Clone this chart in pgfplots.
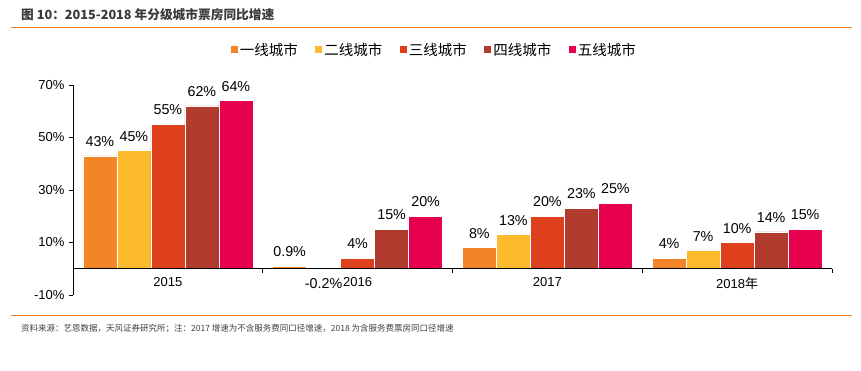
\documentclass[border=0pt]{standalone}
\usepackage{pgfplots}
\pgfplotsset{compat=1.18}
\usepackage{fontspec}
\setmainfont{Liberation Sans}
\newfontfamily\cjk{Noto Sans CJK SC}
\definecolor{c1}{HTML}{F28527}
\definecolor{c2}{HTML}{FBBB2C}
\definecolor{c3}{HTML}{DE3F1C}
\definecolor{c4}{HTML}{B13B2C}
\definecolor{c5}{HTML}{E6004E}
\definecolor{oline}{HTML}{F0821E}
\definecolor{titlegray}{HTML}{3A3A3A}
\definecolor{notegray}{HTML}{404040}
\pgfplotsset{ybar legend/.style={legend image code/.code={\fill[##1] (0pt,-3pt) rectangle (8pt,5pt);}}}
\begin{document}
\begin{tikzpicture}[x=1pt,y=1pt]
\useasboundingbox (0,0) rectangle (861,371);
\node[anchor=west, font=\cjk\bfseries\fontsize{12.7}{15}\selectfont, text=titlegray, inner sep=0] at (21,356) {图 10：2015-2018 年分级城市票房同比增速};
\draw[oline, line width=1pt] (11,343) -- (852,343);
\draw[oline, line width=1pt] (11,55) -- (852,55);
\node[anchor=west, font=\cjk\fontsize{8.5}{11}\selectfont, text=notegray, inner sep=0] at (21,42) {资料来源：艺恩数据，天风证券研究所；注：2017 增速为不含服务费同口径增速，2018 为含服务费票房同口径增速};
\begin{axis}[
  at={(73pt,76pt)}, anchor=south west,
  scale only axis, width=759pt, height=210pt,
  xmin=-0.5, xmax=3.5, ymin=-10, ymax=70,
  clip=false, axis on top,
  axis x line=middle, axis y line=left,
  axis line style={-, black, line width=0.8pt},
  every inner x axis line/.append style={-},
  every outer y axis line/.append style={-},
  tick align=outside, major tick length=4pt,
  tick style={black, line width=0.8pt},
  ytick={-10,10,30,50,70},
  yticklabels={-10\%,10\%,30\%,50\%,70\%},
  xtick={0.5,1.5,2.5,3.5},
  xticklabels={},
  extra x ticks={0,1,2,3},
  extra x tick labels={2015,2016,2017,{2018{\cjk 年}}},
  extra x tick style={major tick length=0pt, xticklabel style={yshift=-5pt}},
  tick label style={font=\fontsize{13}{15}\selectfont, text=black},
  yticklabel style={xshift=-1pt},
  /pgf/number format/assume math mode=true,
  ybar=0pt, bar width=34pt,
  nodes near coords={\pgfmathprintnumber[fixed,precision=1]{\pgfplotspointmeta}\%},
  every node near coord/.append style={font=\fontsize{14.3}{16}\selectfont, text=black, inner ysep=9pt, inner xsep=1pt},
  legend columns=5,
  legend style={draw=none, fill=none, at={(0.475,1.1667)}, anchor=center,
    font=\cjk\fontsize{14.5}{16}\selectfont,
    nodes={inner xsep=1.5pt},
    /tikz/every even column/.append style={column sep=15pt}},
]
\addplot[fill=c1, draw=white, line width=0.5pt] coordinates {(0,43) (1,0.9) (2,8) (3,4)};
\addplot[fill=c2, draw=white, line width=0.5pt] coordinates {(0,45) (1,-0.2) (2,13) (3,7)};
\addplot[fill=c3, draw=white, line width=0.5pt] coordinates {(0,55) (1,4) (2,20) (3,10)};
\addplot[fill=c4, draw=white, line width=0.5pt] coordinates {(0,62) (1,15) (2,23) (3,14)};
\addplot[fill=c5, draw=white, line width=0.5pt] coordinates {(0,64) (1,20) (2,25) (3,15)};
\legend{一线城市,二线城市,三线城市,四线城市,五线城市}
\end{axis}
\end{tikzpicture}
\end{document}
